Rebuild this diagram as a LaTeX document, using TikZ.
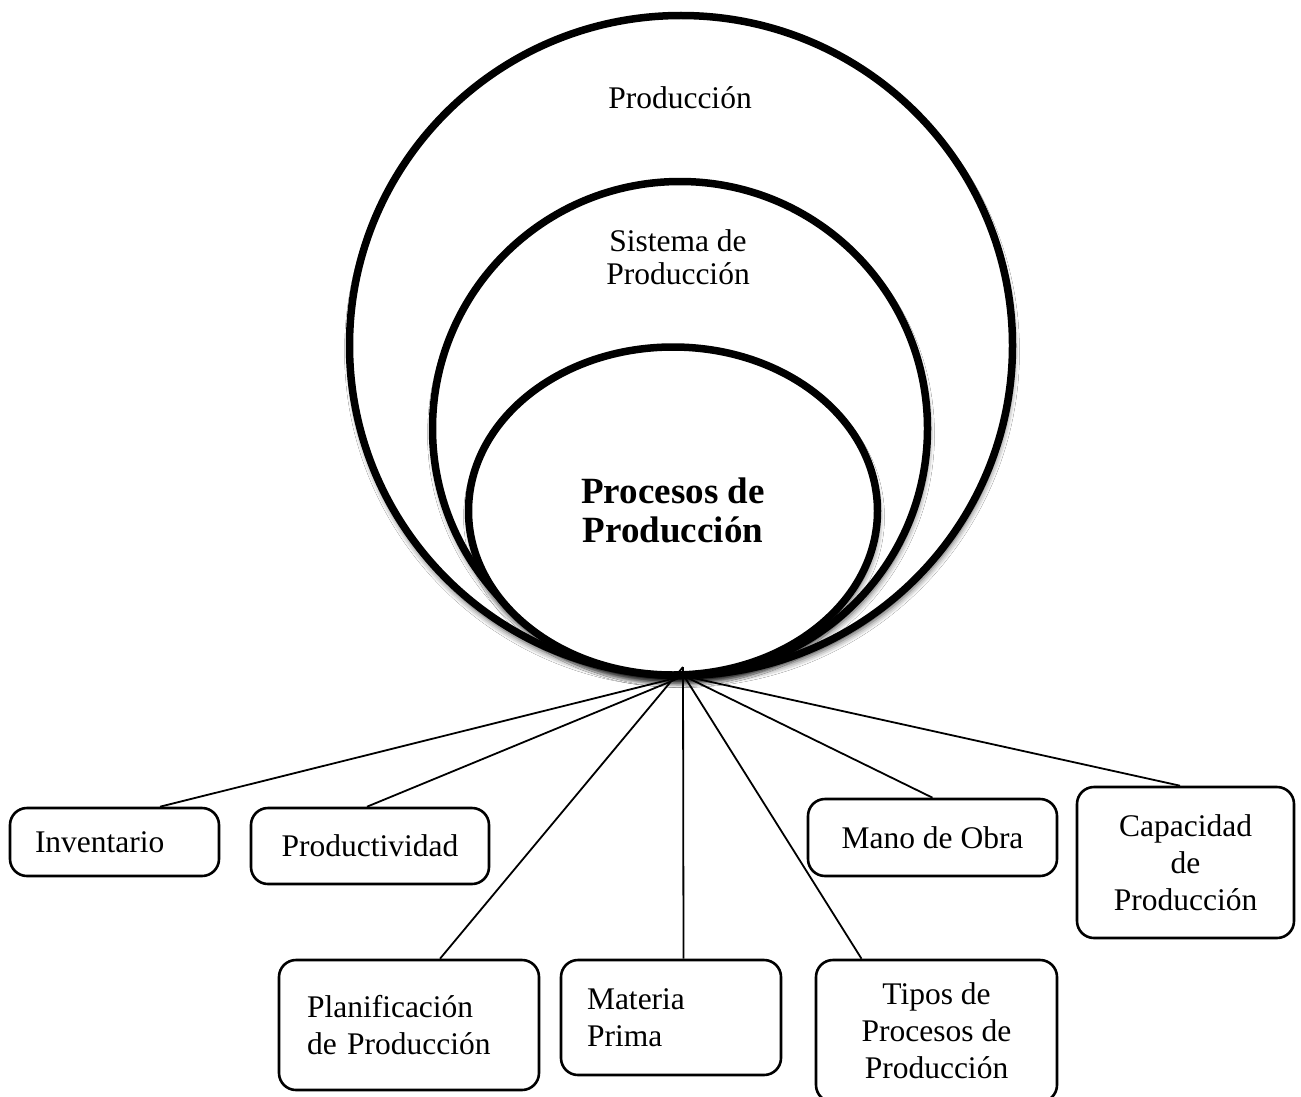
\documentclass[tikz,border=0pt]{standalone}
\usepackage{fontspec}
\setmainfont{Liberation Serif}
\usetikzlibrary{calc,shadows.blur}
\begin{document}
\begin{tikzpicture}[x=1pt,y=-1pt,
  ring/.style={draw=black, line width=7.5pt, fill=white,
    blur shadow={shadow xshift=1pt, shadow yshift=-6pt,
                 shadow blur radius=6pt, shadow opacity=70}},
  topic/.style={draw, line width=2.6pt, rounded corners=17pt, inner sep=0pt,
    font=\fontsize{31.5}{37}\selectfont},
  ringtext/.style={font=\fontsize{31.5}{33}\selectfont, align=center},
  link/.style={line width=1.8pt}
]
\clip (0,0) rectangle (1301,1097);
\fill[white] (0,0) rectangle (1301,1097);

% nested rings, outermost first
\path[ring] (681,345.5) ellipse [x radius=331.5pt, y radius=330pt];
\path[ring] (680,428.5) ellipse [x radius=247.5pt, y radius=247pt];
\path[ring] (673,511) ellipse [x radius=204.5pt, y radius=164pt];

\node[ringtext] (produccion) at (680,98) {Producción};
\node[ringtext] (sistema) at (678,257) {Sistema de\\Producción};
\node[font=\fontsize{37}{39}\selectfont\bfseries, align=center] (procesos) at (673,510)
  {Procesos de\\Producción};

% topic boxes
\node[topic, minimum width=209pt, minimum height=68pt, text width=159pt, align=left]
  (inv) at (114.5,842) {Inventario};
\node[topic, minimum width=238pt, minimum height=76pt, align=center]
  (prod) at (370,846) {Productividad};
\node[topic, minimum width=260pt, minimum height=130pt, text width=204pt, align=left]
  (plan) at (409,1025) {Planificación\\de Producción};
\node[topic, minimum width=220pt, minimum height=115pt, text width=168pt, align=left]
  (mat) at (671,1017.5) {Materia\\Prima};
\node[topic, minimum width=241pt, minimum height=142pt, align=center]
  (tipos) at (936.5,1031) {Tipos de\\Procesos de\\Producción};
\node[topic, minimum width=249pt, minimum height=77pt, align=center]
  (mano) at (932.5,837.5) {Mano de Obra};
\node[topic, minimum width=217pt, minimum height=151pt, align=center]
  (cap) at (1185.5,862.5) {Capacidad\\de\\Producción};

% connectors from the bottom of the rings
\coordinate (hub) at (684,676);
\coordinate (apex) at (683,667);
\draw[link] (hub) -- ($(inv.north)+(45.5,0)$);
\draw[link] (hub) -- ($(prod.north)+(-3,0)$);
\draw[link] (apex) -- ($(plan.north)+(31,0)$);
\draw[link] (apex) -- ($(mat.north)+(12.5,0)$);
\draw[link] (hub) -- ($(tipos.north)+(-75,0)$);
\draw[link] (hub) -- (mano.north);
\draw[link] (hub) -- ($(cap.north)+(-5.5,0)$);
\end{tikzpicture}
\end{document}
